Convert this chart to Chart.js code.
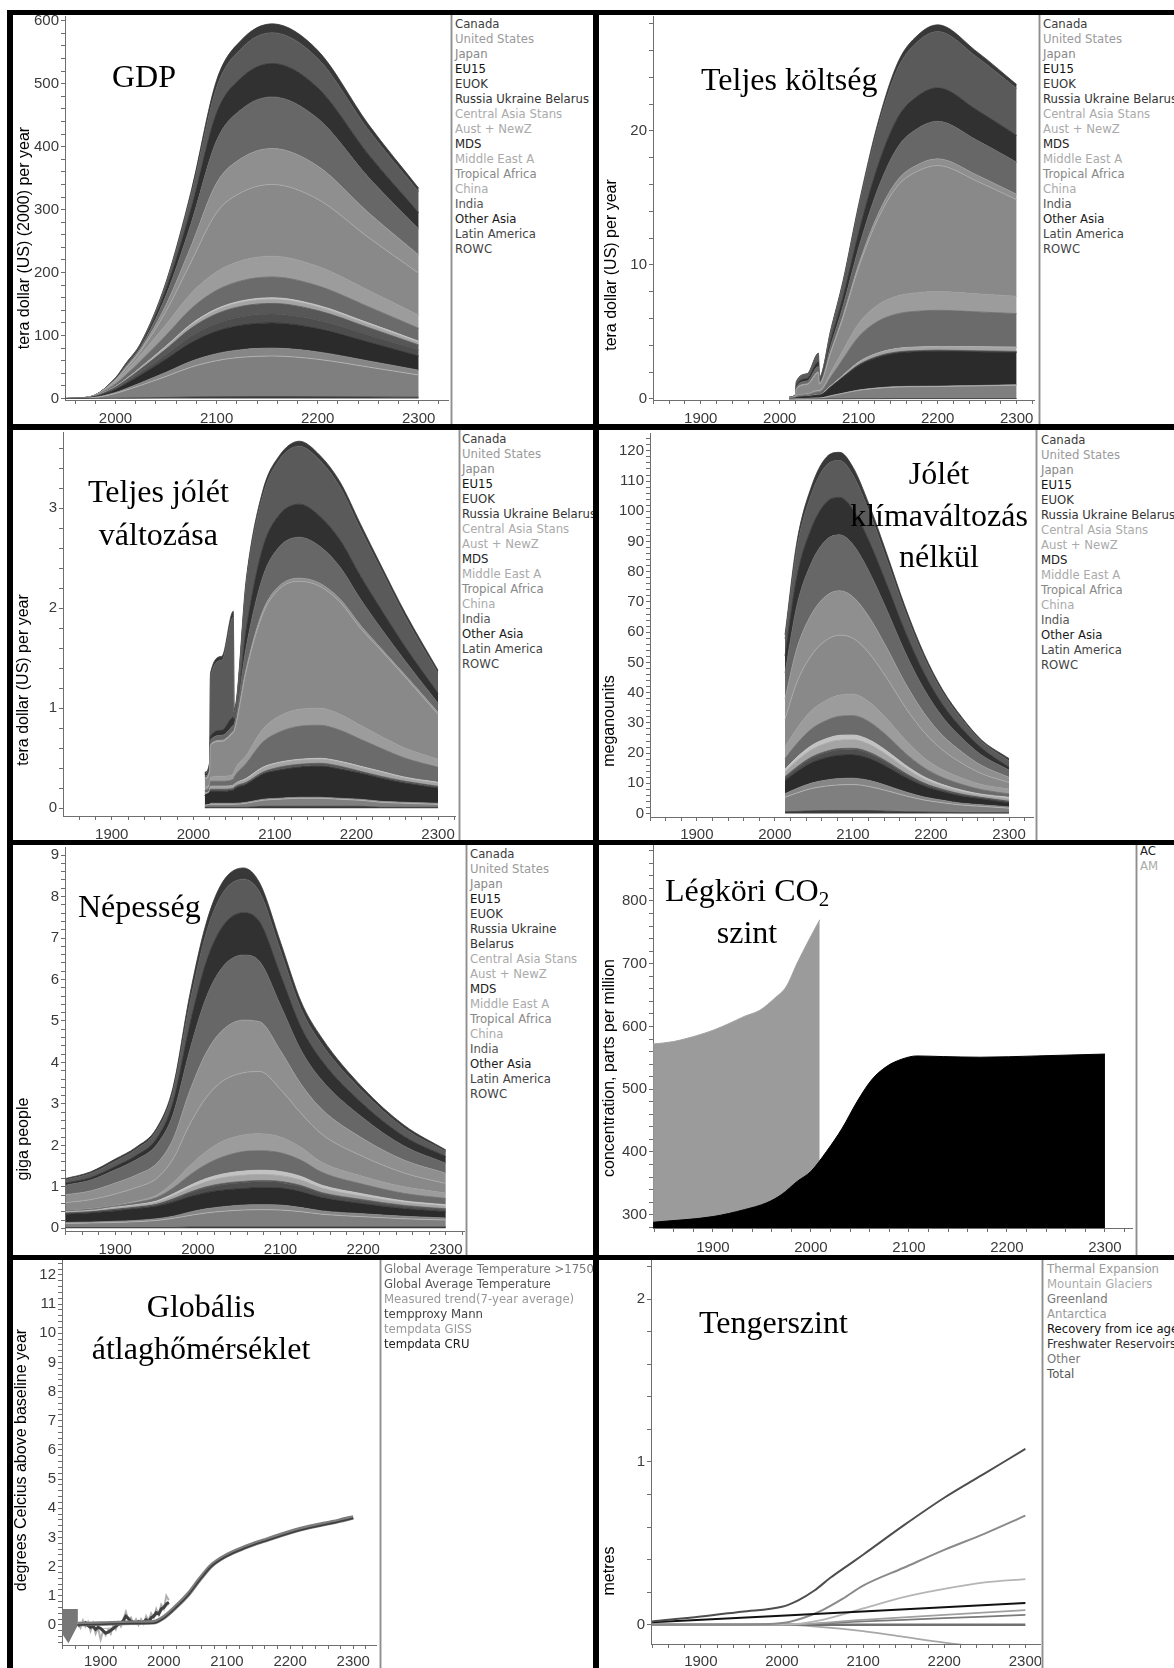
<!DOCTYPE html>
<html lang="hu">
<head>
<meta charset="utf-8">
<title>Régiós klímamodell eredmények</title>
<script src="https://cdn.jsdelivr.net/npm/chart.js@4.4.1/dist/chart.umd.min.js"></script>
<style>
  html, body { margin: 0; padding: 0; background: #fff; overflow: hidden; }
  #lap { position: relative; width: 1174px; height: 1668px; overflow: hidden; background: #fff; }
  #lap canvas { position: absolute; z-index: 1; }
  .keret { position: absolute; background: #000; z-index: 6; }
  .elvalaszto { position: absolute; width: 1px; background: #8e8e8e; border-left: 1px solid #cdcdcd; border-right: 1px solid #cdcdcd; z-index: 5; }
  .jelmagyarazat { position: absolute; z-index: 2; font-family: "DejaVu Sans", Verdana, sans-serif; font-size: 11.7px; line-height: 15px; white-space: nowrap; }
  .jelmagyarazat.tordel { white-space: normal; }
  .cim { position: absolute; z-index: 3; font-family: "Liberation Serif", "Times New Roman", serif; font-size: 32px; color: #000; white-space: nowrap; }
  .cim.kozep { text-align: center; transform: translateX(-50%); }
  .cim sub { font-size: 21px; line-height: 0; vertical-align: -5px; }
  .ycim { position: absolute; z-index: 2; font-family: "Liberation Sans", Arial, sans-serif; font-size: 16px; color: #000; white-space: nowrap; transform: translate(-50%, -50%) rotate(-90deg); }
</style>
</head>
<body>
<div id="lap"></div>
<script>
// --- Régiók (a halmozás alulról felfelé ebben a sorrendben megy) ---
const regionNames = ['Canada', 'United States', 'Japan', 'EU15', 'EUOK', 'Russia Ukraine Belarus',
  'Central Asia Stans', 'Aust + NewZ', 'MDS', 'Middle East A', 'Tropical Africa', 'China',
  'India', 'Other Asia', 'Latin America', 'ROWC'];

// --- GDP, tera dollar (US) (2000) per year ---
const gdpYears = [1950, 1975, 2000, 2010, 2025, 2050, 2075, 2100, 2125, 2155, 2200, 2250, 2300];
const gdpCanada = [0, 0.04, 0.4, 0.6, 0.9, 1.6, 2.2, 2.7, 2.9, 3, 2.8, 2.4, 2];
const gdpUS = [0, 0.8, 7.7, 12.3, 20, 33.5, 47.7, 57.4, 62.6, 64.5, 59.5, 47.6, 35.3];
const gdpJapan = [0, 0.16, 1.5, 2.4, 3.9, 6.5, 9.3, 11.1, 12.1, 12.5, 11.7, 9.7, 7.7];
const gdpEU15 = [0, 0.5, 4.8, 7.6, 12.4, 20.8, 29.6, 35.6, 38.8, 40, 37, 29.9, 22.5];
const gdpEUOK = [0, 0.2, 1.7, 2.7, 4.3, 7.3, 10.4, 12.5, 13.6, 14, 13.2, 11.4, 9.5];
const gdpRUB = [0, 0.2, 2, 3.2, 5.3, 8.8, 12.6, 15.1, 16.5, 17, 15.5, 11.8, 8];
const gdpCAS = [0, 0.08, 0.8, 1.2, 2, 3.4, 4.8, 5.8, 6.3, 6.5, 6.1, 5.1, 4];
const gdpANZ = [0, 0.03, 0.3, 0.5, 0.8, 1.3, 1.9, 2.2, 2.4, 2.5, 2.4, 2.2, 2];
const gdpMDS = [0, 0.4, 4, 6.3, 10.2, 17.2, 24.4, 29.4, 32, 33, 30.9, 25.8, 20.5];
const gdpMEA = [0, 0.4, 4, 6.3, 10.2, 17.2, 24.4, 29.4, 32, 33, 30.9, 26.1, 21];
const gdpTropAfrica = [0, 0.03, 1.8, 3.8, 5.6, 20.9, 50.4, 93.9, 108.4, 114, 106.6, 84.2, 66.5];
const gdpChina = [0, 0.02, 0.9, 1.9, 2.8, 10.4, 25.2, 47, 54.2, 57, 52.7, 39.4, 29];
const gdpIndia = [0, 0.02, 1.3, 2.7, 4, 15, 36.2, 67.6, 78, 82, 75.6, 56.3, 41];
const gdpOtherAsia = [0, 0.02, 0.8, 1.7, 2.6, 9.7, 23.4, 43.7, 50.4, 53, 48.8, 36.1, 26];
const gdpLatAm = [0, 0.01, 0.8, 1.6, 2.4, 9, 21.7, 40.4, 46.6, 49, 46.6, 39.2, 33.4];
const gdpROWC = [0, 0, 0.2, 0.5, 0.7, 2.6, 6.2, 11.5, 13.3, 14, 12.7, 8.7, 5.6];

// --- Teljes költség, tera dollar (US) per year ---
const costYears = [2012, 2020, 2021, 2035, 2049, 2050, 2065, 2080, 2100, 2125, 2150, 2175, 2200, 2250, 2300];
const costCanada = [0, 0, 0, 0, 0, 0, 0.01, 0.01, 0.02, 0.02, 0.03, 0.03, 0.03, 0.03, 0.03];
const costUS = [0.01, 0.02, 0.03, 0.04, 0.07, 0.07, 0.23, 0.41, 0.63, 0.79, 0.87, 0.89, 0.9, 0.95, 1.0];
const costJapan = [0, 0, 0, 0, 0, 0, 0.01, 0.01, 0.02, 0.03, 0.03, 0.03, 0.03, 0.03, 0.03];
const costEU15 = [0.03, 0.05, 0.08, 0.13, 0.21, 0.21, 0.65, 1.17, 1.82, 2.28, 2.5, 2.57, 2.6, 2.5, 2.4];
const costEUOK = [0, 0, 0, 0, 0.01, 0.01, 0.01, 0.02, 0.03, 0.04, 0.04, 0.04, 0.04, 0.04, 0.04];
const costRUB = [0, 0, 0, 0.01, 0.01, 0.01, 0.02, 0.03, 0.04, 0.05, 0.05, 0.05, 0.05, 0.05, 0.05];
const costCAS = [0, 0.01, 0.01, 0.01, 0.02, 0.02, 0.06, 0.11, 0.18, 0.22, 0.24, 0.25, 0.25, 0.28, 0.3];
const costANZ = [0, 0, 0, 0, 0, 0, 0.01, 0.01, 0.02, 0.02, 0.02, 0.02, 0.02, 0.02, 0.02];
const costMDS = [0.03, 0.06, 0.08, 0.13, 0.22, 0.22, 0.67, 1.21, 1.89, 2.37, 2.59, 2.67, 2.7, 2.6, 2.5];
const costMEA = [0.01, 0.03, 0.04, 0.07, 0.11, 0.11, 0.35, 0.63, 0.98, 1.23, 1.34, 1.38, 1.4, 1.35, 1.3];
const costTropAfrica = [0.03, 0.09, 0.5, 0.71, 1.31, 0.46, 1.53, 2.44, 4.2, 6.47, 8.24, 9.08, 9.4, 8.4, 7.2];
const costChina = [0, 0, 0.03, 0.04, 0.07, 0.02, 0.08, 0.13, 0.22, 0.34, 0.44, 0.48, 0.5, 0.45, 0.4];
const costIndia = [0.01, 0.03, 0.15, 0.21, 0.39, 0.14, 0.46, 0.73, 1.25, 1.93, 2.46, 2.71, 2.8, 2.6, 2.4];
const costOtherAsia = [0.01, 0.02, 0.13, 0.19, 0.35, 0.12, 0.41, 0.65, 1.12, 1.73, 2.2, 2.42, 2.5, 2.25, 2.0];
const costLatAm = [0.01, 0.04, 0.22, 0.32, 0.58, 0.2, 0.68, 1.09, 1.88, 2.89, 3.68, 4.06, 4.2, 3.95, 3.5];
const costROWC = [0, 0, 0.03, 0.04, 0.07, 0.02, 0.08, 0.13, 0.22, 0.34, 0.44, 0.48, 0.5, 0.4, 0.3];

// --- Teljes jólét változása, tera dollar (US) per year ---
const welYears = [2014, 2020, 2021, 2035, 2049, 2050, 2065, 2085, 2105, 2130, 2155, 2180, 2205, 2230, 2260, 2300];
const welCanada = [0.01, 0.01, 0.01, 0.01, 0.01, 0.01, 0.01, 0.02, 0.02, 0.02, 0.02, 0.02, 0.02, 0.01, 0.01, 0.01];
const welUS = [0.02, 0.03, 0.03, 0.03, 0.03, 0.03, 0.04, 0.06, 0.07, 0.08, 0.08, 0.07, 0.06, 0.05, 0.04, 0.03];
const welJapan = [0, 0, 0.01, 0.01, 0.01, 0.01, 0.01, 0.01, 0.01, 0.01, 0.01, 0.01, 0.01, 0.01, 0.01, 0.01];
const welEU15 = [0.1, 0.12, 0.12, 0.12, 0.13, 0.14, 0.18, 0.25, 0.28, 0.3, 0.31, 0.29, 0.26, 0.23, 0.19, 0.15];
const welEUOK = [0, 0, 0.01, 0.01, 0.01, 0.01, 0.01, 0.01, 0.01, 0.01, 0.01, 0.01, 0.01, 0.01, 0.01, 0.01];
const welRUB = [0, 0, 0.01, 0.01, 0.01, 0.01, 0.01, 0.01, 0.02, 0.02, 0.02, 0.02, 0.01, 0.01, 0.01, 0.01];
const welCAS = [0.02, 0.02, 0.03, 0.03, 0.03, 0.03, 0.03, 0.04, 0.04, 0.04, 0.04, 0.04, 0.04, 0.04, 0.03, 0.03];
const welANZ = [0, 0, 0, 0, 0, 0, 0.01, 0.01, 0.01, 0.01, 0.01, 0.01, 0.01, 0.01, 0.01, 0.01];
const welMDS = [0.03, 0.04, 0.05, 0.05, 0.06, 0.07, 0.15, 0.25, 0.3, 0.33, 0.33, 0.31, 0.27, 0.23, 0.19, 0.15];
const welMEA = [0.03, 0.03, 0.04, 0.05, 0.05, 0.06, 0.08, 0.13, 0.16, 0.17, 0.17, 0.16, 0.14, 0.12, 0.1, 0.08];
const welTropAfrica = [0.08, 0.12, 0.32, 0.35, 0.42, 0.4, 0.85, 1.15, 1.27, 1.28, 1.22, 1.12, 0.97, 0.86, 0.71, 0.45];
const welChina = [0.01, 0.01, 0.01, 0.01, 0.01, 0.01, 0.02, 0.03, 0.03, 0.03, 0.03, 0.03, 0.03, 0.02, 0.02, 0.02];
const welIndia = [0.02, 0.02, 0.04, 0.05, 0.06, 0.06, 0.22, 0.34, 0.39, 0.41, 0.37, 0.32, 0.26, 0.2, 0.14, 0.09];
const welOtherAsia = [0.02, 0.02, 0.04, 0.05, 0.08, 0.05, 0.18, 0.29, 0.32, 0.33, 0.3, 0.27, 0.23, 0.19, 0.14, 0.1];
const welLatAm = [0.01, 0.03, 0.59, 0.7, 1.0, 0.07, 0.46, 0.52, 0.55, 0.58, 0.56, 0.53, 0.47, 0.4, 0.3, 0.2];
const welROWC = [0.01, 0.01, 0.04, 0.04, 0.06, 0.03, 0.04, 0.05, 0.04, 0.05, 0.05, 0.05, 0.05, 0.04, 0.04, 0.03];

// --- Jólét klímaváltozás nélkül, meganounits ---
const wocYears = [2013, 2028, 2047, 2066, 2083, 2100, 2120, 2143, 2167, 2191, 2215, 2240, 2265, 2300];
const wocCanada = [0.6, 0.7, 0.9, 1, 1, 1, 1, 0.8, 0.6, 0.5, 0.4, 0.3, 0.3, 0.3];
const wocUS = [4.8, 6.1, 7.4, 8.1, 8.5, 8.6, 8, 6.8, 5.3, 4, 3.2, 2.5, 2.1, 1.5];
const wocJapan = [1.2, 1.5, 1.8, 2, 2.1, 2.1, 2, 1.7, 1.3, 1, 0.8, 0.6, 0.5, 0.4];
const wocEU15 = [4.3, 5.5, 6.7, 7.4, 7.7, 7.7, 7.3, 6.2, 4.8, 3.6, 2.8, 2.3, 1.9, 1.3];
const wocEUOK = [1, 1.2, 1.5, 1.6, 1.7, 1.7, 1.6, 1.4, 1.1, 0.8, 0.6, 0.5, 0.4, 0.4];
const wocRUB = [0.3, 0.4, 0.4, 0.5, 0.5, 0.5, 0.5, 0.4, 0.3, 0.2, 0.2, 0.2, 0.1, 0.2];
const wocCAS = [1.6, 2, 2.4, 2.7, 2.8, 2.8, 2.6, 2.2, 1.7, 1.3, 1, 0.8, 0.7, 0.8];
const wocANZ = [0.9, 1.2, 1.4, 1.5, 1.6, 1.6, 1.5, 1.3, 1, 0.8, 0.6, 0.5, 0.4, 0.5];
const wocMDS = [3.5, 4.5, 5.5, 6, 6.3, 6.4, 6, 5.1, 3.9, 3, 2.3, 1.9, 1.5, 1.1];
const wocMEA = [3.9, 5, 6.1, 6.7, 7, 7.1, 6.6, 5.6, 4.4, 3.3, 2.6, 2.1, 1.7, 1.6];
const wocTropAfrica = [9.1, 15.2, 18.3, 19.9, 19.8, 18.5, 16.2, 13.5, 10.8, 8.5, 6.5, 4.9, 3.6, 2.2];
const wocChina = [6.8, 11.2, 13.6, 14.7, 14.7, 13.7, 12, 10, 8, 6.3, 4.8, 3.7, 2.7, 1.7];
const wocIndia = [8.5, 14.1, 17.1, 18.5, 18.5, 17.3, 15.1, 12.6, 10.1, 7.9, 6.1, 4.6, 3.4, 2.4];
const wocOtherAsia = [5.7, 9.5, 11.4, 12.4, 12.4, 11.6, 10.1, 8.4, 6.8, 5.3, 4.1, 3.1, 2.3, 0.9];
const wocLatAm = [5.6, 9.3, 11.3, 12.2, 12.2, 11.4, 10, 8.3, 6.7, 5.2, 4, 3, 2.2, 2.2];
const wocROWC = [1.3, 2.1, 2.5, 2.7, 2.7, 2.6, 2.2, 1.9, 1.5, 1.2, 0.9, 0.7, 0.5, 0.7];

// --- Népesség, giga people ---
const popYears = [1840, 1870, 1900, 1925, 1950, 1970, 1990, 2010, 2030, 2055, 2075, 2100, 2125, 2150, 2200, 2250, 2300];
const popCanada = [0.02, 0.02, 0.02, 0.02, 0.02, 0.02, 0.03, 0.03, 0.03, 0.03, 0.03, 0.03, 0.03, 0.03, 0.03, 0.03, 0.03];
const popUS = [0.1, 0.11, 0.12, 0.14, 0.17, 0.22, 0.28, 0.34, 0.38, 0.41, 0.42, 0.41, 0.37, 0.31, 0.25, 0.2, 0.17];
const popJapan = [0.02, 0.02, 0.03, 0.03, 0.04, 0.05, 0.08, 0.1, 0.11, 0.12, 0.12, 0.12, 0.1, 0.08, 0.07, 0.06, 0.05];
const popEU15 = [0.2, 0.22, 0.25, 0.28, 0.3, 0.34, 0.37, 0.39, 0.4, 0.4, 0.41, 0.41, 0.38, 0.32, 0.24, 0.18, 0.15];
const popEUOK = [0.02, 0.02, 0.03, 0.03, 0.04, 0.06, 0.09, 0.11, 0.13, 0.14, 0.14, 0.13, 0.12, 0.1, 0.08, 0.06, 0.05];
const popRUB = [0.01, 0.01, 0.01, 0.01, 0.01, 0.02, 0.02, 0.03, 0.03, 0.03, 0.03, 0.03, 0.03, 0.02, 0.02, 0.02, 0.02];
const popCAS = [0.02, 0.02, 0.03, 0.04, 0.05, 0.07, 0.1, 0.12, 0.14, 0.15, 0.15, 0.14, 0.13, 0.11, 0.08, 0.07, 0.06];
const popANZ = [0.01, 0.01, 0.02, 0.02, 0.03, 0.05, 0.06, 0.08, 0.09, 0.1, 0.1, 0.1, 0.09, 0.07, 0.06, 0.04, 0.04];
const popMDS = [0.02, 0.03, 0.03, 0.05, 0.08, 0.14, 0.25, 0.34, 0.41, 0.47, 0.47, 0.45, 0.39, 0.31, 0.23, 0.18, 0.15];
const popMEA = [0.01, 0.01, 0.01, 0.03, 0.06, 0.13, 0.22, 0.31, 0.38, 0.4, 0.41, 0.38, 0.31, 0.24, 0.19, 0.16, 0.13];
const popTropAfrica = [0.19, 0.22, 0.28, 0.33, 0.4, 0.57, 1.0, 1.3, 1.45, 1.5, 1.5, 1.15, 0.82, 0.68, 0.48, 0.33, 0.23];
const popChina = [0.19, 0.21, 0.26, 0.3, 0.36, 0.48, 0.8, 1.08, 1.23, 1.27, 1.2, 0.93, 0.7, 0.6, 0.43, 0.31, 0.25];
const popIndia = [0.23, 0.26, 0.32, 0.37, 0.45, 0.6, 0.98, 1.33, 1.52, 1.57, 1.45, 1.1, 0.82, 0.7, 0.5, 0.34, 0.24];
const popOtherAsia = [0.05, 0.06, 0.08, 0.1, 0.15, 0.28, 0.6, 0.85, 0.98, 1.02, 0.95, 0.73, 0.55, 0.47, 0.33, 0.23, 0.16];
const popLatAm = [0.08, 0.1, 0.13, 0.15, 0.19, 0.27, 0.52, 0.7, 0.8, 0.81, 0.72, 0.59, 0.45, 0.4, 0.3, 0.2, 0.12];
const popROWC = [0.03, 0.04, 0.05, 0.05, 0.06, 0.1, 0.2, 0.24, 0.27, 0.27, 0.22, 0.2, 0.17, 0.15, 0.09, 0.07, 0.04];

// --- Légköri CO2, concentration, parts per million ---
const co2MeasuredYears = [1839, 1860, 1887, 1902, 1917, 1932, 1948, 1963, 1975, 1986, 1997, 2009];
const co2Measured = [572, 576, 587, 595, 605, 616, 626, 645, 664, 701, 735, 770];
const co2ModelYears = [1839, 1900, 1932, 1955, 1970, 1986, 2000, 2016, 2032, 2047, 2062, 2077, 2093, 2108, 2135, 2173, 2230, 2300];
const co2Model = [288, 297, 308, 319, 332, 353, 369, 401, 438, 480, 515, 536, 548, 553, 552, 551, 553, 556];

// --- Globális átlaghőmérséklet, degrees Celcius above baseline year ---
const tempModelYears = [1864, 1900, 1950, 1983, 2000, 2021, 2039, 2057, 2075, 2098, 2128, 2158, 2217, 2277, 2300];
const tempGlobal = [0.0, 0.02, 0.05, 0.06, 0.23, 0.63, 1.03, 1.54, 2.0, 2.34, 2.63, 2.86, 3.26, 3.54, 3.66];
const tempGlobal1750 = [0.03, 0.05, 0.08, 0.09, 0.26, 0.66, 1.06, 1.57, 2.03, 2.37, 2.66, 2.89, 3.29, 3.57, 3.69];
const tempObsYears = [1864, 1868, 1872, 1876, 1880, 1884, 1888, 1892, 1896, 1900, 1904, 1908, 1912, 1916, 1920,
  1924, 1928, 1932, 1936, 1940, 1944, 1948, 1952, 1956, 1960, 1964, 1968, 1972, 1976, 1980, 1984, 1988, 1992,
  1996, 2000, 2004, 2008];
const tempCRU = [-0.04, 0.05, 0.02, 0.08, -0.02, -0.08, -0.05, -0.15, -0.08, -0.12, -0.2, -0.28, -0.25, -0.18,
  -0.12, -0.05, 0.02, 0.08, 0.15, 0.3, 0.22, 0.12, 0.1, 0.05, 0.12, 0.08, 0.1, 0.18, 0.1, 0.25, 0.3, 0.42, 0.38,
  0.55, 0.6, 0.72, 0.78];
const tempGISS = [0.05, -0.1, 0.15, -0.05, 0.1, -0.2, 0.05, -0.3, -0.1, -0.5, -0.2, -0.35, -0.15, -0.3, 0.0,
  -0.15, 0.1, -0.05, 0.2, 0.45, 0.15, 0.25, 0.05, 0.2, 0.0, 0.2, 0.05, 0.3, 0.15, 0.4, 0.25, 0.55, 0.35, 0.7,
  0.55, 1.0, 0.85];
const tempTrendYears = [1864, 1880, 1900, 1920, 1940, 1960, 1980, 2000, 2008];
const tempTrend = [0, 0.02, -0.12, -0.1, 0.15, 0.08, 0.2, 0.55, 0.72];
const tempMannYears = [1839, 1849, 1864];
const tempMannHigh = [0.55, 0.55, 0.55];
const tempMannLow = [-0.3, -0.63, 0.0];

// --- Tengerszint, metres ---
const seaTotalYears = [1840, 1900, 1950, 2000, 2020, 2040, 2060, 2080, 2100, 2150, 2200, 2250, 2300];
const seaTotal = [0.02, 0.05, 0.08, 0.11, 0.15, 0.21, 0.29, 0.36, 0.43, 0.61, 0.78, 0.93, 1.08];
const seaThermalYears = [1840, 1950, 2000, 2025, 2050, 2075, 2100, 2150, 2200, 2250, 2300];
const seaThermal = [0, 0, 0.01, 0.04, 0.09, 0.16, 0.24, 0.35, 0.46, 0.56, 0.67];
const seaGlacierYears = [1840, 2000, 2050, 2100, 2150, 2200, 2250, 2300];
const seaGlaciers = [0, 0, 0.03, 0.1, 0.17, 0.22, 0.26, 0.28];
const seaAntarctica = [0, 0, -0.015, -0.04, -0.075, -0.11, -0.14, -0.17];
const seaSmallYears = [1840, 2000, 2100, 2200, 2300];
const seaGreenland = [0, 0, 0.02, 0.04, 0.06];
const seaOther = [0, 0, 0.03, 0.06, 0.09];
const seaLinearYears = [1840, 2300];
const seaRecovery = [0.015, 0.133];
const seaFreshwater = [0, 0];

// --- Tengelyfeliratok ---
const xTickYears = [1900, 2000, 2100, 2200, 2300];
const gdpXTickYears = [2000, 2100, 2200, 2300];
const gdpYTicks = [0, 100, 200, 300, 400, 500, 600];
const costYTicks = [0, 10, 20];
const welYTicks = [0, 1, 2, 3];
const wocYTicks = [0, 10, 20, 30, 40, 50, 60, 70, 80, 90, 100, 110, 120];
const popYTicks = [0, 1, 2, 3, 4, 5, 6, 7, 8, 9];
const co2YTicks = [300, 400, 500, 600, 700, 800];
const tempYTicks = [0, 1, 2, 3, 4, 5, 6, 7, 8, 9, 10, 11, 12];
const seaYTicks = [0, 1, 2];

// Szürke árnyalatok régiónként (kitöltés és a réteg felső széle)
const REGION_FILL = ['#3a3a3a', '#7f7f7f', '#868686', '#2b2b2b', '#4d4d4d', '#575757', '#a4a4a4', '#c2c2c2',
  '#6b6b6b', '#9c9c9c', '#898989', '#8f8f8f', '#676767', '#313131', '#5a5a5a', '#383838'];
const REGION_EDGE = ['#3a3a3a', '#b5b5b5', '#868686', '#2b2b2b', '#4d4d4d', '#575757', '#a4a4a4', '#c2c2c2',
  '#6b6b6b', '#9c9c9c', '#a9a9a9', '#9a9a9a', '#676767', '#313131', '#5a5a5a', '#383838'];
const REGION_TEXT = ['#3c3c3c', '#9a9a9a', '#888888', '#111111', '#333333', '#333333', '#aaaaaa', '#aaaaaa',
  '#222222', '#aaaaaa', '#888888', '#aaaaaa', '#555555', '#1a1a1a', '#444444', '#444444'];

const lap = document.getElementById('lap');
const pontok = (xs, ys) => xs.map((x, i) => ({ x: x, y: ys[i] }));

/**
 * Halmozott területek a régiókhoz (első a nullától, a többi az előzőtől tölt).
 */
function halmozott(sorok) {
  return sorok.map((ertekek, i) => ({
    label: regionNames[i],
    data: ertekek,
    fill: i === 0 ? 'origin' : '-1',
    backgroundColor: REGION_FILL[i],
    borderColor: REGION_EDGE[i],
    borderWidth: 0.8,
    pointRadius: 0,
    cubicInterpolationMode: 'monotone'
  }));
}

function vonal(label, xs, ys, szin, vastag, extra) {
  return Object.assign({
    label: label,
    data: pontok(xs, ys),
    borderColor: szin,
    backgroundColor: szin,
    borderWidth: vastag,
    pointRadius: 0,
    fill: false,
    cubicInterpolationMode: 'monotone'
  }, extra || {});
}

// Kis és nagy osztások egy listában, felirat csak a nagyokon
function osztasok(min, max, lepes) {
  const lista = [];
  for (let v = Math.ceil(min / lepes - 1e-9) * lepes; v <= max + 1e-9; v += lepes) {
    lista.push({ value: Math.round(v * 1000) / 1000 });
  }
  return lista;
}

function tengely(tartomany, lepes, feliratok, padding, meret, vizszintes, halmoz) {
  return {
    type: 'linear',
    min: tartomany[0],
    max: tartomany[1],
    bounds: 'data',
    stacked: !!halmoz,
    grid: { display: true, drawOnChartArea: false, drawTicks: true, tickLength: 4, color: '#6e6e6e', lineWidth: 1 },
    border: { display: true, color: '#6e6e6e', width: 1 },
    ticks: {
      autoSkip: false,
      maxRotation: 0,
      padding: padding,
      color: '#3a3a3a',
      font: { family: '"Liberation Sans", Arial, sans-serif', size: 15 },
      callback: v => feliratok.some(m => Math.abs(m - v) < 1e-6) ? String(v) : ''
    },
    afterBuildTicks: s => { s.ticks = osztasok(tartomany[0], tartomany[1], lepes); },
    afterFit: s => {
      if (vizszintes) s.height = meret; else s.width = meret;
      s.paddingLeft = 0; s.paddingRight = 0; s.paddingTop = 0; s.paddingBottom = 0;
    }
  };
}

function rajzol(p) {
  const cw = p.area.r - p.box.x + 2;
  const ch = p.area.b - p.box.y + 34;
  const canvas = document.createElement('canvas');
  canvas.width = cw;
  canvas.height = ch;
  canvas.style.left = p.box.x + 'px';
  canvas.style.top = p.box.y + 'px';
  canvas.style.width = cw + 'px';
  canvas.style.height = ch + 'px';
  lap.appendChild(canvas);

  new Chart(canvas, {
    type: 'line',
    data: { labels: p.labels, datasets: p.datasets },
    options: {
      responsive: false,
      animation: false,
      devicePixelRatio: 1,
      events: [],
      layout: { padding: { left: 0, right: 2, top: p.area.t - p.box.y, bottom: 0 } },
      plugins: { legend: { display: false }, tooltip: { enabled: false } },
      scales: {
        x: tengely(p.x, 20, p.xLabels, p.xPad, 34, true, false),
        y: tengely(p.y, p.yStep, p.yLabels, 2, p.area.l - p.box.x, false, p.stacked)
      }
    }
  });
}

function elem(cls, css, html) {
  const d = document.createElement('div');
  d.className = cls;
  d.style.cssText = css;
  if (html !== undefined) d.innerHTML = html;
  lap.appendChild(d);
  return d;
}

function jelmagyarazat(x, elsoKozep, nevek, szinek, tordel) {
  const d = elem('jelmagyarazat' + (tordel ? ' tordel' : ''),
    `left:${x}px;top:${elsoKozep - 7.5}px;` + (tordel ? 'width:120px;' : ''));
  nevek.forEach((n, i) => {
    const sor = document.createElement('div');
    sor.textContent = n;
    sor.style.color = szinek[i];
    d.appendChild(sor);
  });
}

// Cím: alapvonal és sortávolság alapján helyezzük el
function cim(sorok, x, alapvonal, sorkoz, kozepre) {
  const top = alapvonal - ((sorkoz - 35.4) / 2 + 28.5);
  elem('cim' + (kozepre ? ' kozep' : ''), `left:${x}px;top:${top}px;line-height:${sorkoz}px;`, sorok.join('<br>'));
}

// --- Panelek ---
const panels = [
  { // GDP
    box: { x: 13, y: 15 }, area: { l: 65, t: 16, r: 448, b: 400 },
    x: [1950, 2329], y: [-2.4, 607.5], yStep: 20, yLabels: gdpYTicks, xLabels: gdpXTickYears, xPad: 5.5,
    stacked: true, labels: gdpYears,
    datasets: halmozott([gdpCanada, gdpUS, gdpJapan, gdpEU15, gdpEUOK, gdpRUB, gdpCAS, gdpANZ, gdpMDS, gdpMEA,
      gdpTropAfrica, gdpChina, gdpIndia, gdpOtherAsia, gdpLatAm, gdpROWC])
  },
  { // Teljes költség
    box: { x: 599, y: 15 }, area: { l: 653, t: 16, r: 1034, b: 400 },
    x: [1839.5, 2322], y: [-0.075, 28.58], yStep: 2, yLabels: costYTicks, xLabels: xTickYears, xPad: 5.5,
    stacked: true, labels: costYears,
    datasets: halmozott([costCanada, costUS, costJapan, costEU15, costEUOK, costRUB, costCAS, costANZ, costMDS,
      costMEA, costTropAfrica, costChina, costIndia, costOtherAsia, costLatAm, costROWC])
  },
  { // Teljes jólét változása
    box: { x: 13, y: 430 }, area: { l: 63, t: 432, r: 455, b: 816 },
    x: [1840.2, 2320.8], y: [-0.077, 3.762], yStep: 0.2, yLabels: welYTicks, xLabels: xTickYears, xPad: 6,
    stacked: true, labels: welYears,
    datasets: halmozott([welCanada, welUS, welJapan, welEU15, welEUOK, welRUB, welCAS, welANZ, welMDS, welMEA,
      welTropAfrica, welChina, welIndia, welOtherAsia, welLatAm, welROWC])
  },
  { // Jólét klímaváltozás nélkül
    box: { x: 599, y: 430 }, area: { l: 650, t: 433, r: 1033, b: 817 },
    x: [1840, 2330.7], y: [-1.13, 125.9], yStep: 2, yLabels: wocYTicks, xLabels: xTickYears, xPad: 5,
    stacked: true, labels: wocYears,
    datasets: halmozott([wocCanada, wocUS, wocJapan, wocEU15, wocEUOK, wocRUB, wocCAS, wocANZ, wocMDS, wocMEA,
      wocTropAfrica, wocChina, wocIndia, wocOtherAsia, wocLatAm, wocROWC])
  },
  { // Népesség
    box: { x: 13, y: 845 }, area: { l: 65, t: 847, r: 464, b: 1231 },
    x: [1839.3, 2322], y: [-0.065, 9.195], yStep: 0.2, yLabels: popYTicks, xLabels: xTickYears, xPad: 6,
    stacked: true, labels: popYears,
    datasets: halmozott([popCanada, popUS, popJapan, popEU15, popEUOK, popRUB, popCAS, popANZ, popMDS, popMEA,
      popTropAfrica, popChina, popIndia, popOtherAsia, popLatAm, popROWC])
  },
  { // Légköri CO2
    box: { x: 599, y: 845 }, area: { l: 653, t: 845, r: 1132, b: 1228 },
    x: [1838.9, 2327.6], y: [278.8, 889.2], yStep: 20, yLabels: co2YTicks, xLabels: xTickYears, xPad: 6.5,
    stacked: false,
    datasets: [
      vonal('AC', co2ModelYears, co2Model, '#000000', 1, { fill: 'start', backgroundColor: '#000000' }),
      vonal('AM', co2MeasuredYears, co2Measured, '#a3a3a3', 1, { fill: 'start', backgroundColor: '#9b9b9b' })
    ]
  },
  { // Globális átlaghőmérséklet
    box: { x: 13, y: 1260 }, area: { l: 62, t: 1260, r: 376, b: 1645 },
    x: [1838.8, 2336], y: [-0.686, 12.514], yStep: 0.2, yLabels: tempYTicks, xLabels: xTickYears, xPad: 3.5,
    stacked: false,
    datasets: [
      vonal('Global Average Temperature', tempModelYears, tempGlobal, '#3e3e3e', 1.5),
      vonal('Global Average Temperature >1750', tempModelYears, tempGlobal1750, '#7c7c7c', 4.5),
      vonal('tempdata CRU', tempObsYears, tempCRU, '#404040', 3, { cubicInterpolationMode: 'default', tension: 0 }),
      vonal('Measured trend(7-year average)', tempTrendYears, tempTrend, '#bdbdbd', 1.2),
      vonal('tempdata GISS', tempObsYears, tempGISS, '#b0b0b0', 2, { cubicInterpolationMode: 'default', tension: 0 }),
      vonal('tempproxy Mann', tempMannYears, tempMannHigh, '#777777', 0,
        { fill: '+1', backgroundColor: '#777777', cubicInterpolationMode: 'default', tension: 0 }),
      vonal('tempproxy Mann (alsó)', tempMannYears, tempMannLow, '#777777', 0,
        { cubicInterpolationMode: 'default', tension: 0 })
    ]
  },
  { // Tengerszint
    box: { x: 599, y: 1260 }, area: { l: 651, t: 1260, r: 1040, b: 1644 },
    x: [1838.6, 2318], y: [-0.1185, 2.241], yStep: 0.2, yLabels: seaYTicks, xLabels: xTickYears, xPad: 4.5,
    stacked: false,
    datasets: [
      vonal('Total', seaTotalYears, seaTotal, '#4e4e4e', 2),
      vonal('Recovery from ice age', seaLinearYears, seaRecovery, '#111111', 2),
      vonal('Thermal Expansion', seaThermalYears, seaThermal, '#8a8a8a', 2),
      vonal('Mountain Glaciers', seaGlacierYears, seaGlaciers, '#b5b5b5', 1.8),
      vonal('Other', seaSmallYears, seaOther, '#a0a0a0', 1.8),
      vonal('Greenland', seaSmallYears, seaGreenland, '#7a7a7a', 1.8),
      vonal('Freshwater Reservoirs', seaLinearYears, seaFreshwater, '#707070', 2.5),
      vonal('Antarctica', seaGlacierYears, seaAntarctica, '#a8a8a8', 1.8)
    ]
  }
];

panels.forEach(rajzol);

// --- Jelmagyarázatok és elválasztó vonalak ---
[[451.5, 15, 424], [1039.4, 15, 424], [459.5, 430, 840], [1036.8, 430, 840],
 [466.8, 845, 1255], [1136.8, 845, 1255], [380.1, 1260, 1668], [1042.8, 1260, 1668]].forEach(([x, t, b]) => {
  elem('elvalaszto', `left:${x - 1.5}px;top:${t}px;height:${b - t}px;`);
});

jelmagyarazat(455, 24, regionNames, REGION_TEXT);
jelmagyarazat(1043, 24, regionNames, REGION_TEXT);
jelmagyarazat(462, 439, regionNames, REGION_TEXT);
jelmagyarazat(1041, 440, regionNames, REGION_TEXT);
jelmagyarazat(470, 854, regionNames, REGION_TEXT, true);
jelmagyarazat(1140, 851.7, ['AC', 'AM'], ['#222222', '#aaaaaa']);
jelmagyarazat(384, 1269,
  ['Global Average Temperature >1750', 'Global Average Temperature', 'Measured trend(7-year average)',
   'tempproxy Mann', 'tempdata GISS', 'tempdata CRU'],
  ['#777777', '#555555', '#999999', '#444444', '#999999', '#222222']);
jelmagyarazat(1047, 1269,
  ['Thermal Expansion', 'Mountain Glaciers', 'Greenland', 'Antarctica', 'Recovery from ice age',
   'Freshwater Reservoirs', 'Other', 'Total'],
  ['#999999', '#aaaaaa', '#777777', '#999999', '#111111', '#333333', '#777777', '#555555']);

// --- Függőleges tengelycímek ---
[['tera dollar (US) (2000) per year', 23.5, 238], ['tera dollar (US) per year', 610.5, 264.5],
 ['tera dollar (US) per year', 23, 680], ['meganounits', 609, 720.5], ['giga people', 23, 1139],
 ['concentration, parts per million', 609, 1067.5], ['degrees Celcius above baseline year', 21, 1460],
 ['metres', 609, 1571]].forEach(([t, x, y]) => {
  elem('ycim', `left:${x}px;top:${y}px;`).textContent = t;
});

// --- Panelcímek ---
cim(['GDP'], 112, 87, 42, false);
cim(['Teljes költség'], 701, 89.3, 42, false);
cim(['Teljes jólét', 'változása'], 158.4, 502, 43, true);
cim(['Jólét', 'klímaváltozás', 'nélkül'], 939, 485, 41.5, true);
cim(['Népesség'], 78, 916.7, 42, false);
cim(['Légköri CO<sub>2</sub>', 'szint'], 747, 901.7, 41.3, true);
cim(['Globális', 'átlaghőmérséklet'], 201, 1317.7, 41.6, true);
cim(['Tengerszint'], 699, 1332.3, 42, false);

// --- Fekete keretek ---
[[7, 10, 1167, 5], [7, 10, 6, 1658], [593, 10, 6, 1658],
 [7, 424, 1167, 6], [7, 840, 1167, 5], [7, 1255, 1167, 5]].forEach(([x, y, w, h]) => {
  elem('keret', `left:${x}px;top:${y}px;width:${w}px;height:${h}px;`);
});
</script>
</body>
</html>
